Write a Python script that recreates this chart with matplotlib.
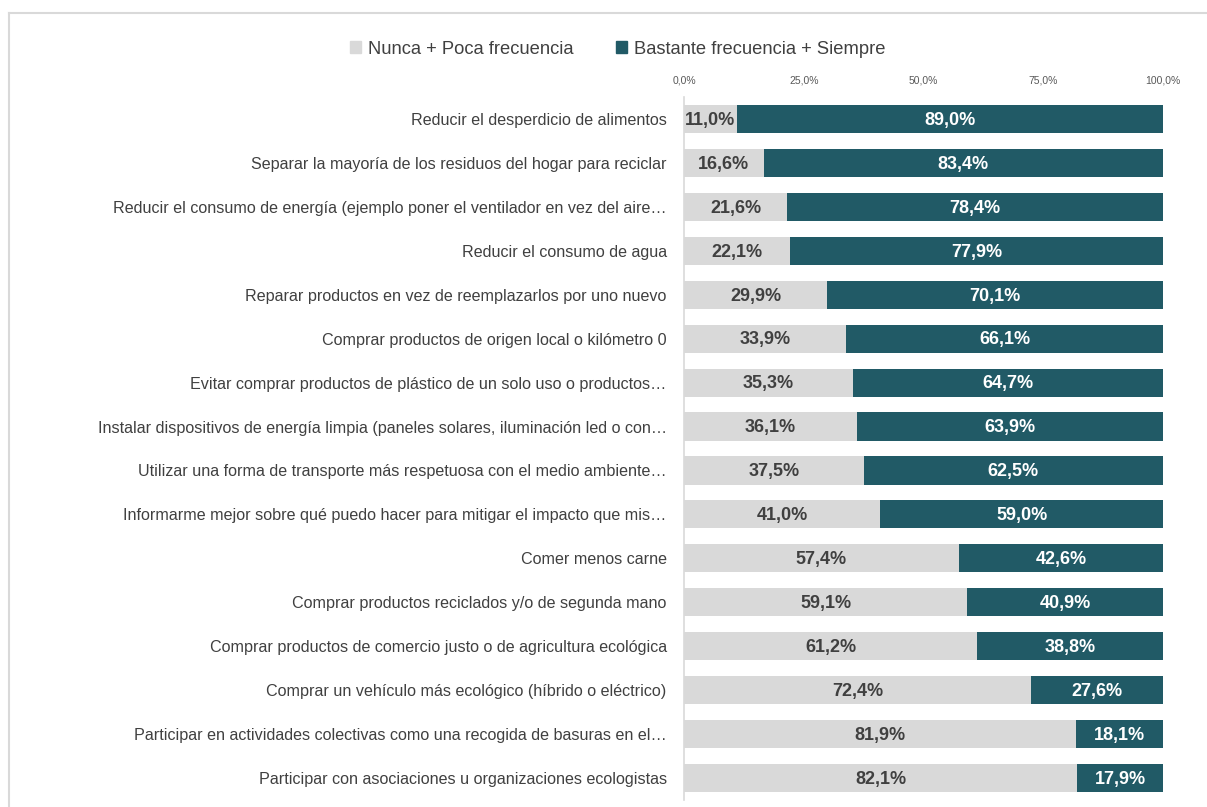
import matplotlib
matplotlib.use("Agg")
import matplotlib.pyplot as plt
from matplotlib.lines import Line2D
from matplotlib.patches import Patch

plt.rcParams['font.family'] = ['Liberation Sans', 'DejaVu Sans']

categories = [
    "Reducir el desperdicio de alimentos",
    "Separar la mayoría de los residuos del hogar para reciclar",
    "Reducir el consumo de energía (ejemplo poner el ventilador en vez del aire…",
    "Reducir el consumo de agua",
    "Reparar productos en vez de reemplazarlos por uno nuevo",
    "Comprar productos de origen local o kilómetro 0",
    "Evitar comprar productos de plástico de un solo uso o productos…",
    "Instalar dispositivos de energía limpia (paneles solares, iluminación led o con…",
    "Utilizar una forma de transporte más respetuosa con el medio ambiente…",
    "Informarme mejor sobre qué puedo hacer para mitigar el impacto que mis…",
    "Comer menos carne",
    "Comprar productos reciclados y/o de segunda mano",
    "Comprar productos de comercio justo o de agricultura ecológica",
    "Comprar un vehículo más ecológico (híbrido o eléctrico)",
    "Participar en actividades colectivas como una recogida de basuras en el…",
    "Participar con asociaciones u organizaciones ecologistas",
]
nunca = [11.0, 16.6, 21.6, 22.1, 29.9, 33.9, 35.3, 36.1, 37.5, 41.0, 57.4, 59.1, 61.2, 72.4, 81.9, 82.1]
bastante = [89.0, 83.4, 78.4, 77.9, 70.1, 66.1, 64.7, 63.9, 62.5, 59.0, 42.6, 40.9, 38.8, 27.6, 18.1, 17.9]
series_names = ["Nunca + Poca frecuencia", "Bastante frecuencia + Siempre"]
tick_values = [0, 25, 50, 75, 100]

GRAY = "#d9d9d9"
TEAL = "#215a66"
TXT = "#404040"

W, H = 1207, 807
fig = plt.figure(figsize=(W / 100, H / 100), dpi=100)
ax = fig.add_axes([684 / W, 7 / H, (1163 - 684) / W, (800 - 97) / H])

y = list(range(len(categories)))
ax.barh(y, nunca, height=0.64, color=GRAY)
ax.barh(y, bastante, left=nunca, height=0.64, color=TEAL)

def fmt(v):
    return f"{v:.1f}%".replace(".", ",")

for i in y:
    ax.text(nunca[i] / 2, i + 0.03, fmt(nunca[i]), ha="center", va="center",
            fontsize=13, fontweight="bold", color=TXT)
    ax.text(nunca[i] + bastante[i] / 2, i + 0.03, fmt(bastante[i]), ha="center", va="center",
            fontsize=13, fontweight="bold", color="white")

ax.set_xlim(0, 100)
ax.set_ylim(15.5, -0.5)
ax.set_yticks(y)
ax.set_yticklabels(categories, fontsize=11.6, color=TXT)
ax.xaxis.tick_top()
ax.set_xticks(tick_values)
ax.set_xticklabels([fmt(v) for v in tick_values], fontsize=7.5, color="#595959")
ax.tick_params(axis="both", length=0)
ax.tick_params(axis="y", pad=12.5)
ax.tick_params(axis="x", pad=8)
for s in ["top", "right", "bottom"]:
    ax.spines[s].set_visible(False)
ax.spines["left"].set_color(GRAY)
ax.spines["left"].set_linewidth(1.2)

handles = [Patch(color=GRAY), Patch(color=TEAL)]
fig.legend(handles, series_names, loc="center", bbox_to_anchor=(618 / W, 1 - 49 / H),
           ncol=2, frameon=False, fontsize=13.2, handlelength=0.6, handleheight=0.6,
           handletextpad=0.4, columnspacing=2.3, labelcolor=TXT)

# outer frame
fig.add_artist(Line2D([9 / W, 1], [1 - 13 / H, 1 - 13 / H], transform=fig.transFigure, color=GRAY, lw=1.5))
fig.add_artist(Line2D([9 / W, 9 / W], [0, 1 - 13 / H], transform=fig.transFigure, color=GRAY, lw=1.5))

fig.savefig("out.png", dpi=100)
